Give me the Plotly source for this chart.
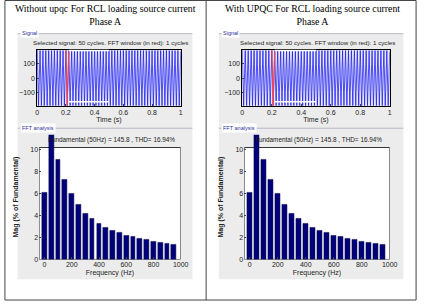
import numpy as np
import plotly.graph_objects as go

W, H = 428, 306

# ---------------- data ----------------
panel_titles = ["Without upqc For RCL loading source current<br>Phase A",
                "With UPQC For RCL loading source current<br>Phase A"]
signal_header = "Selected signal: 50 cycles. FFT window (in red): 1 cycles"
fft_header = "Fundamental (50Hz) = 145.8 , THD= 16.94%"
fundamental_amp = 145.8
freq_hz = [0, 50, 100, 150, 200, 250, 300, 350, 400, 450,
           500, 550, 600, 650, 700, 750, 800, 850, 900, 950]
mag_left = [6.1, 11.35, 9.1, 7.3, 5.95, 4.95, 4.2, 3.7, 3.25, 2.9,
            2.65, 2.4, 2.2, 2.05, 1.9, 1.78, 1.65, 1.55, 1.45, 1.38]
mag_right = [6.1, 11.35, 9.1, 7.3, 5.95, 4.95, 4.2, 3.7, 3.25, 2.9,
             2.65, 2.4, 2.2, 2.05, 1.9, 1.78, 1.65, 1.55, 1.45, 1.38]
sig_ticks = [0, 0.2, 0.4, 0.6, 0.8, 1]
sig_yticks = [-100, 0, 100]
fft_xticks = [0, 200, 400, 600, 800, 1000]
fft_yticks = [0, 2, 4, 6, 8, 10]
fft_window = [0.2, 0.22]


def waveform(mags):
    # time signal rebuilt from the read spectrum (odd harmonics in phase, even in quadrature)
    t = np.linspace(0, 1, 2601)
    y = fundamental_amp * np.cos(2 * np.pi * 50 * t)
    for f, m in zip(freq_hz, mags):
        if f in (0, 50):
            continue
        h = f // 50
        trig = np.cos if h % 2 else np.sin
        y = y + fundamental_amp * m / 100 * trig(2 * np.pi * f * t)
    return t, y


def px(x):
    return x / W


def py(y):
    return 1 - y / H


fig = go.Figure()

panels = [
    dict(mags=mag_left, gray=(16, 195), title_x=106, sig_x=(36, 183), fft_x=(38, 183)),
    dict(mags=mag_right, gray=(222, 411), title_x=318, sig_x=(246, 397), fft_x=(248, 397)),
]

shapes = []
annotations = []
axfont = dict(family="Liberation Sans, Arial", size=7, color="#222")
hdrfont = dict(family="Liberation Sans, Arial", size=6.2, color="#222")
fftfont = dict(family="Liberation Sans, Arial", size=6.4, color="#222")

for i, p in enumerate(panels):
    n = 2 * i + 1
    xs, ys = f"x{n}", f"y{n}"
    xf, yf = f"x{n+1}", f"y{n+1}"
    xs_name = "xaxis" if n == 1 else f"xaxis{n}"
    ys_name = "yaxis" if n == 1 else f"yaxis{n}"
    xf_name, yf_name = f"xaxis{n+1}", f"yaxis{n+1}"
    g0, g1 = p["gray"]

    # gray panel backgrounds
    shapes.append(dict(type="rect", xref="paper", yref="paper", x0=px(g0), x1=px(g1),
                       y0=py(282), y1=py(34), fillcolor="#ececec", line=dict(width=0), layer="below"))
    for yy in (34, 129.5):
        shapes.append(dict(type="line", xref="paper", yref="paper", x0=px(g0), x1=px(g1),
                           y0=py(yy), y1=py(yy), line=dict(color="#b8b8c8", width=1), layer="below"))
    annotations.append(dict(text="Signal", xref="paper", yref="paper", x=px(g0 + 2), y=py(33),
                            xanchor="left", yanchor="middle", showarrow=False,
                            font=dict(family="Liberation Sans, Arial", size=5.5, color="#3030a0"),
                            bgcolor="white"))
    annotations.append(dict(text="FFT analysis", xref="paper", yref="paper", x=px(g0 + 2), y=py(129),
                            xanchor="left", yanchor="middle", showarrow=False,
                            font=dict(family="Liberation Sans, Arial", size=5.5, color="#3030a0"),
                            bgcolor="white"))
    annotations.append(dict(text=panel_titles[i], xref="paper", yref="paper", x=px(p["title_x"]), y=py(1),
                            xanchor="center", yanchor="top", showarrow=False, align="center",
                            font=dict(family="Liberation Serif, Times New Roman", size=9.8, color="black")))
    sx0, sx1 = p["sig_x"]
    annotations.append(dict(text=signal_header, xref="paper", yref="paper", x=px((sx0 + sx1) / 2 + 2), y=py(43),
                            xanchor="center", yanchor="middle", showarrow=False, font=hdrfont))
    fx0, fx1 = p["fft_x"]
    annotations.append(dict(text=fft_header, xref="paper", yref="paper", x=px((fx0 + fx1) / 2 + 2), y=py(141),
                            xanchor="center", yanchor="middle", showarrow=False, font=fftfont))

    # ---- signal ----
    t, y = waveform(p["mags"])
    fig.add_trace(go.Scatter(x=t, y=y, mode="lines", line=dict(color="rgba(25,25,255,0.85)", width=0.9),
                             xaxis=xs, yaxis=ys, showlegend=False, hoverinfo="skip"))
    m = (t >= fft_window[0]) & (t <= fft_window[1])
    fig.add_trace(go.Scatter(x=t[m], y=y[m], mode="lines", line=dict(color="#ff4040", width=1),
                             xaxis=xs, yaxis=ys, showlegend=False, hoverinfo="skip"))
    shapes.append(dict(type="rect", xref=xs, yref=ys, x0=fft_window[1], x1=0.5, y0=188, y1=200,
                       fillcolor="white", line=dict(width=0), layer="above"))
    shapes.append(dict(type="line", xref=xs, yref=ys, x0=fft_window[1], x1=0.5, y0=-165, y1=-165,
                       line=dict(color="white", width=1.5), layer="above"))
    fig.layout[xs_name] = dict(domain=[px(sx0), px(sx1)], range=[0, 1], tickvals=sig_ticks,
                               ticktext=[str(v) for v in sig_ticks], ticks="inside", ticklen=2,
                               showline=True, linecolor="black", linewidth=0.8, mirror=True,
                               showgrid=False, zeroline=False, tickfont=axfont,
                               title=dict(text="Time (s)", font=axfont, standoff=1), anchor=ys)
    fig.layout[ys_name] = dict(domain=[py(107), py(50)], range=[-195, 200], tickvals=sig_yticks,
                               ticks="inside", ticklen=2, showline=True, linecolor="black",
                               linewidth=0.8, mirror=True, showgrid=False, zeroline=False,
                               tickfont=axfont, anchor=xs)

    # ---- FFT ----
    fig.add_trace(go.Bar(x=freq_hz, y=p["mags"], width=35, marker=dict(color="#00007a",
                         line=dict(color="#000040", width=0.5)),
                         xaxis=xf, yaxis=yf, showlegend=False, hoverinfo="skip"))
    shapes.append(dict(type="rect", xref=xf, yref=yf, x0=-40, x1=1000, y0=0, y1=10.18,
                       fillcolor="white", line=dict(color="black", width=0.8), layer="below"))
    fig.layout[xf_name] = dict(domain=[px(fx0), px(fx1)], range=[-40, 1000], tickvals=fft_xticks,
                               ticks="inside", ticklen=2, showline=False, showgrid=False,
                               zeroline=False, tickfont=axfont,
                               title=dict(text="Frequency (Hz)", font=axfont, standoff=2), anchor=yf)
    fig.layout[yf_name] = dict(domain=[py(262), py(136)], range=[0, 11.35], tickvals=fft_yticks,
                               ticks="inside", ticklen=2, showline=False, showgrid=False,
                               zeroline=False, tickfont=axfont,
                               title=dict(text="<b>Mag (% of Fundamental)</b>", font=axfont, standoff=10),
                               anchor=xf)

# table borders
for (x0, y0, x1, y1) in [(3, 0.5, 424, 0.5), (3, 303, 424, 303), (3, 0.5, 3, 303),
                         (209, 0.5, 209, 303), (424, 0.5, 424, 303)]:
    shapes.append(dict(type="line", xref="paper", yref="paper", x0=px(x0), x1=px(x1),
                       y0=py(y0), y1=py(y1), line=dict(color="#444", width=1)))

fig.update_layout(width=W, height=H, margin=dict(l=0, r=0, t=0, b=0),
                  paper_bgcolor="white", plot_bgcolor="rgba(0,0,0,0)",
                  shapes=shapes, annotations=annotations, bargap=0)

fig.write_html("out.html")
